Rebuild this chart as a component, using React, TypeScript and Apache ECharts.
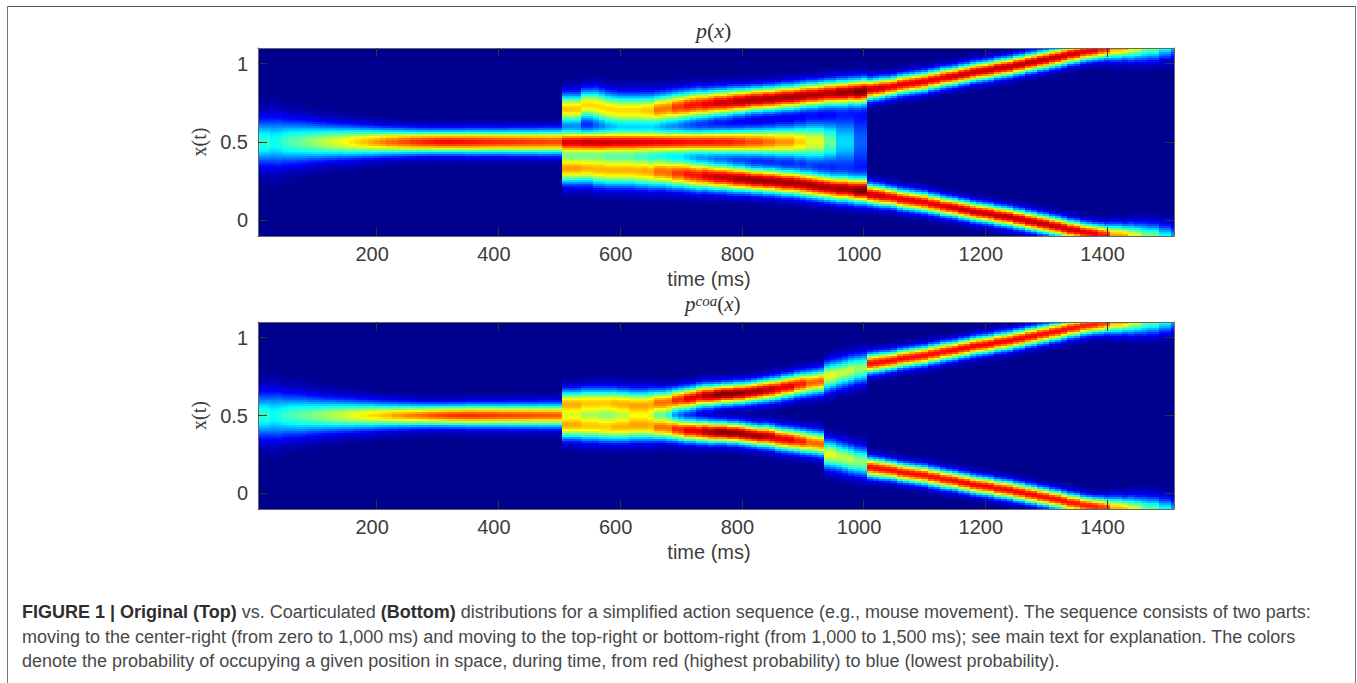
import React, { useEffect, useRef } from "react";
import * as echarts from "echarts";

// Values estimated from the reference crops. c = ridge centre in x(t), p = ridge height
// on the jet scale (0..1), s = ridge half-width. Early and centre lists have one value
// per 10 ms column; p and s of the branches have one value per 25 ms.
const timeStart = 5;
const colStep = 10;
const timeEnd = 1510;
const branchStart = 505;
const coarseStep = 25;
const xTicks = [200, 400, 600, 800, 1000, 1200, 1400];
const yTicks = [0, 0.5, 1];

// Central ridge before the split, 5..495 ms
const topEarlyP = [0.42, 0.42, 0.39, 0.4, 0.44, 0.46, 0.47, 0.49, 0.51, 0.53, 0.55, 0.57, 0.59, 0.6, 0.63, 0.65, 0.67, 0.69, 0.71, 0.73,
  0.75, 0.77, 0.78, 0.8, 0.81, 0.83, 0.84, 0.85, 0.86, 0.87, 0.875, 0.875, 0.87, 0.87, 0.865, 0.86, 0.855, 0.85, 0.845, 0.84,
  0.84, 0.835, 0.83, 0.83, 0.825, 0.82, 0.82, 0.815, 0.81, 0.81];
const bottomEarlyP = [0.42, 0.42, 0.39, 0.4, 0.43, 0.45, 0.46, 0.48, 0.49, 0.51, 0.52, 0.54, 0.56, 0.57, 0.59, 0.61, 0.62, 0.64, 0.66, 0.67,
  0.69, 0.7, 0.72, 0.73, 0.75, 0.76, 0.77, 0.78, 0.8, 0.81, 0.82, 0.83, 0.835, 0.84, 0.84, 0.84, 0.835, 0.83, 0.83, 0.825,
  0.82, 0.82, 0.815, 0.81, 0.81, 0.805, 0.8, 0.8, 0.795, 0.79];
const earlyS = [0.1, 0.1, 0.105, 0.105, 0.095, 0.092, 0.09, 0.086, 0.082, 0.079, 0.076, 0.073, 0.071, 0.069, 0.067, 0.065, 0.063, 0.061, 0.06, 0.058,
  0.056, 0.055, 0.054, 0.053, 0.052, 0.051, 0.05, 0.05, 0.049, 0.049, 0.049, 0.049, 0.049, 0.049, 0.05, 0.05, 0.05, 0.05, 0.05, 0.05,
  0.05, 0.051, 0.051, 0.051, 0.051, 0.051, 0.052, 0.052, 0.052, 0.052];

// Middle ridge of the top panel, 505..1005 ms, per 25 ms
const topMidP = [0.88, 0.9, 0.89, 0.88, 0.875, 0.87, 0.87, 0.865, 0.86, 0.86, 0.85, 0.83, 0.8, 0.77, 0.73, 0.67, 0.6, 0.48, 0.34, 0.22];
const topMidS = [0.048, 0.048, 0.048, 0.048, 0.048, 0.048, 0.048, 0.05, 0.05, 0.052, 0.054, 0.056, 0.059, 0.062, 0.067, 0.075, 0.085, 0.095, 0.12, 0.15];

// Branch centres, 505..995 ms, per 10 ms
const topUpperC = [0.71, 0.71, 0.71, 0.735, 0.735, 0.73, 0.72, 0.71, 0.705, 0.7, 0.7, 0.7, 0.7, 0.7, 0.7,
  0.705, 0.71, 0.715, 0.72, 0.725, 0.73, 0.735, 0.74, 0.74, 0.745,
  0.75, 0.75, 0.755, 0.76, 0.76, 0.765, 0.77, 0.77, 0.775, 0.775,
  0.78, 0.785, 0.785, 0.79, 0.795, 0.8, 0.8, 0.805, 0.81, 0.81,
  0.815, 0.815, 0.82, 0.82, 0.825];
const topLowerC = [0.33, 0.33, 0.33, 0.33, 0.33, 0.325, 0.325, 0.32, 0.32, 0.32, 0.32, 0.32, 0.315, 0.315, 0.31,
  0.31, 0.31, 0.305, 0.3, 0.3, 0.295, 0.29, 0.285, 0.285, 0.28,
  0.275, 0.275, 0.27, 0.265, 0.265, 0.26, 0.255, 0.255, 0.25, 0.25,
  0.245, 0.24, 0.24, 0.235, 0.23, 0.225, 0.22, 0.215, 0.21, 0.205,
  0.2, 0.2, 0.195, 0.19, 0.19];
const bottomUpperC = [0.58, 0.58, 0.58, 0.585, 0.585, 0.585, 0.585, 0.585, 0.585, 0.58, 0.58, 0.575, 0.575, 0.575, 0.58,
  0.585, 0.585, 0.59, 0.6, 0.605, 0.61, 0.615, 0.625, 0.63, 0.63,
  0.635, 0.64, 0.64, 0.645, 0.645, 0.65, 0.655, 0.66, 0.665, 0.67,
  0.675, 0.685, 0.69, 0.7, 0.705, 0.71, 0.715, 0.72, 0.75, 0.76,
  0.77, 0.78, 0.79, 0.8, 0.805];
const bottomLowerC = [0.43, 0.43, 0.43, 0.425, 0.425, 0.425, 0.42, 0.42, 0.42, 0.42, 0.42, 0.425, 0.425, 0.425, 0.425,
  0.42, 0.42, 0.415, 0.41, 0.405, 0.4, 0.4, 0.395, 0.395, 0.39,
  0.39, 0.39, 0.385, 0.385, 0.38, 0.375, 0.37, 0.365, 0.365, 0.36,
  0.35, 0.345, 0.34, 0.335, 0.33, 0.325, 0.32, 0.315, 0.25, 0.245,
  0.235, 0.225, 0.215, 0.205, 0.2];
// Branch centres after the second split, 1005..1505 ms, per 10 ms (same in both panels)
const lateUpperC = [0.835, 0.84, 0.845, 0.85, 0.855, 0.865, 0.87, 0.875, 0.88, 0.885,
  0.895, 0.9, 0.91, 0.915, 0.92, 0.93, 0.935, 0.945, 0.95, 0.955,
  0.96, 0.97, 0.975, 0.98, 0.99, 0.995, 1.005, 1.01, 1.02, 1.025,
  1.035, 1.04, 1.05, 1.06, 1.065, 1.075, 1.08, 1.085, 1.09, 1.095,
  1.1, 1.1, 1.105, 1.105, 1.11, 1.11, 1.115, 1.115, 1.12, 1.12, 1.125];
const lateLowerC = [0.165, 0.16, 0.155, 0.15, 0.145, 0.135, 0.13, 0.125, 0.12, 0.115,
  0.105, 0.1, 0.09, 0.085, 0.08, 0.07, 0.065, 0.055, 0.05, 0.045,
  0.04, 0.03, 0.025, 0.02, 0.01, 0.005, -0.005, -0.01, -0.02, -0.025,
  -0.035, -0.04, -0.05, -0.06, -0.065, -0.075, -0.08, -0.085, -0.09, -0.095,
  -0.1, -0.1, -0.105, -0.105, -0.11, -0.11, -0.115, -0.115, -0.12, -0.12, -0.125];

// Branch heights and half-widths, 505..1505 ms, per 25 ms
const topUpperP = [0.68, 0.66, 0.66, 0.66, 0.66, 0.68, 0.76, 0.82, 0.86, 0.89, 0.92, 0.95, 0.96, 0.96, 0.96, 0.96, 0.95, 0.95, 0.97, 1,
  0.93, 0.9, 0.9, 0.9, 0.9, 0.92, 0.93, 0.93, 0.94, 0.94, 0.94, 0.94, 0.93, 0.92, 0.9, 0.85, 0.72, 0.62, 0.52, 0.42, 0.32];
const topLowerP = [0.72, 0.7, 0.7, 0.7, 0.7, 0.71, 0.77, 0.82, 0.86, 0.9, 0.93, 0.96, 0.97, 0.97, 0.97, 0.96, 0.96, 0.95, 0.96, 1,
  0.93, 0.9, 0.9, 0.9, 0.9, 0.92, 0.93, 0.93, 0.94, 0.94, 0.94, 0.94, 0.93, 0.92, 0.9, 0.85, 0.72, 0.62, 0.52, 0.42, 0.32];
const topBranchS = [0.065, 0.065, 0.07, 0.07, 0.07, 0.07, 0.067, 0.065, 0.063, 0.06, 0.058, 0.056, 0.054, 0.054, 0.054, 0.054, 0.054, 0.054, 0.054, 0.054,
  0.045, 0.043, 0.043, 0.043, 0.042, 0.041, 0.041, 0.041, 0.041, 0.041, 0.041, 0.041, 0.041, 0.041, 0.041, 0.043, 0.05, 0.056, 0.06, 0.06, 0.06];
const bottomBranchP = [0.68, 0.66, 0.66, 0.68, 0.68, 0.68, 0.76, 0.84, 0.9, 0.96, 1, 0.99, 0.97, 0.94, 0.9, 0.85, 0.78, 0.6, 0.56, 0.52,
  0.87, 0.87, 0.87, 0.87, 0.87, 0.875, 0.88, 0.88, 0.88, 0.88, 0.88, 0.87, 0.87, 0.86, 0.85, 0.82, 0.7, 0.6, 0.5, 0.42, 0.32];
const bottomBranchS = [0.058, 0.06, 0.06, 0.06, 0.06, 0.06, 0.054, 0.05, 0.049, 0.048, 0.046, 0.046, 0.046, 0.048, 0.049, 0.05, 0.051, 0.062, 0.062, 0.062,
  0.043, 0.041, 0.041, 0.041, 0.041, 0.04, 0.04, 0.04, 0.04, 0.04, 0.04, 0.04, 0.04, 0.04, 0.04, 0.043, 0.05, 0.056, 0.06, 0.06, 0.06];

const captionLines = [
  "{b|FIGURE 1 | Original (Top)} vs. Coarticulated {b|(Bottom)} distributions for a simplified action sequence (e.g., mouse movement). The sequence consists of two parts:",
  "moving to the center-right (from zero to 1,000 ms) and moving to the top-right or bottom-right (from 1,000 to 1,500 ms); see main text for explanation. The colors",
  "denote the probability of occupying a given position in space, during time, from red (highest probability) to blue (lowest probability).",
];

const jetStops: [number, number[]][] = [
  [0, [0, 0, 143]], [0.125, [0, 0, 255]], [0.375, [0, 255, 255]], [0.625, [255, 255, 0]], [0.875, [255, 0, 0]], [1, [128, 0, 0]],
];
function jet(v: number) {
  const x = Math.min(1, Math.max(0, v));
  for (let i = 1; i < jetStops.length; i++) {
    if (x <= jetStops[i][0]) {
      const [a, ca] = jetStops[i - 1];
      const [b, cb] = jetStops[i];
      const f = (x - a) / (b - a);
      return `rgb(${ca.map((q, k) => Math.round(q + (cb[k] - q) * f)).join(",")})`;
    }
  }
  return "rgb(128,0,0)";
}

const rowCount = 94;
const yMin = -0.1;
const yMax = 1.1;

type Panel = {
  earlyP: number[]; earlyS: number[];
  midP: number[]; midS: number[];
  upC: number[]; upP: number[]; upS: number[];
  lowC: number[]; lowP: number[]; lowS: number[];
};

// One cell per time column and row; each cross-section sums the tabulated ridges.
function cells(d: Panel) {
  const out: number[][] = [];
  const rowH = (yMax - yMin) / rowCount;
  const colCount = d.earlyP.length + d.upC.length;
  for (let i = 0; i < colCount; i++) {
    const t = timeStart + i * colStep;
    const k = i - d.earlyP.length;
    const coarse = k >= 0 ? Math.floor((t - branchStart) / coarseStep) : -1;
    for (let r = 0; r < rowCount; r++) {
      const y = yMin + (r + 0.5) * rowH;
      let v = 0;
      const add = (c: number, p: number, s: number) => {
        v += p * Math.exp(-((y - c) * (y - c)) / (2 * s * s));
      };
      if (k < 0) add(0.5, d.earlyP[i], d.earlyS[i]);
      else {
        if (coarse < d.midP.length) add(0.5, d.midP[coarse], d.midS[coarse]);
        add(d.upC[k], d.upP[coarse], d.upS[coarse]);
        add(d.lowC[k], d.lowP[coarse], d.lowS[coarse]);
      }
      if (v > 0.008) out.push([t, yMin + r * rowH, Math.min(1, v), Math.min(timeEnd, t + colStep), yMin + (r + 1) * rowH]);
    }
  }
  return out;
}

const topCells = cells({
  earlyP: topEarlyP, earlyS,
  midP: topMidP, midS: topMidS,
  upC: topUpperC.concat(lateUpperC), upP: topUpperP, upS: topBranchS,
  lowC: topLowerC.concat(lateLowerC), lowP: topLowerP, lowS: topBranchS,
});
const bottomCells = cells({
  earlyP: bottomEarlyP, earlyS,
  midP: [], midS: [],
  upC: bottomUpperC.concat(lateUpperC), upP: bottomBranchP, upS: bottomBranchS,
  lowC: bottomLowerC.concat(lateLowerC), lowP: bottomBranchP, lowS: bottomBranchS,
});

const textColor = "#3c3c3c";
const sansFont = "'Liberation Sans', Arial, sans-serif";
const serifFont = "'Liberation Serif', 'DejaVu Serif', serif";

function renderCell(_: any, api: any) {
  const a = api.coord([api.value(0), api.value(1)]);
  const b = api.coord([api.value(3), api.value(4)]);
  const x0 = Math.round(a[0]);
  const x1 = Math.round(b[0]);
  const y0 = Math.round(b[1]);
  const y1 = Math.round(a[1]);
  return {
    type: "rect",
    shape: { x: x0, y: y0, width: x1 - x0, height: y1 - y0 },
    style: { fill: jet(api.value(2)) },
  };
}

function xAxisFor(gridIndex: number, position: string, labelled: boolean) {
  return {
    type: "value", gridIndex, position, min: timeStart, max: timeEnd, z: 5,
    splitLine: { show: false },
    axisLine: { show: true, onZero: false, lineStyle: { color: "#666", width: 1 } },
    axisTick: { show: true, inside: true, length: 9, customValues: xTicks, lineStyle: { color: "#333", width: 1 } },
    axisLabel: { show: labelled, customValues: xTicks, formatter: (v: number) => String(v), margin: 8, color: textColor, fontSize: 20, fontFamily: sansFont, padding: [0, 9, 0, 0] },
    name: labelled ? "time (ms)" : "",
    nameLocation: "middle", nameGap: 33,
    nameTextStyle: { color: textColor, fontSize: 20, fontFamily: sansFont, padding: [0, 14, 0, 0] },
  };
}
function yAxisFor(gridIndex: number, position: string, labelled: boolean) {
  return {
    type: "value", gridIndex, position, min: yMin, max: yMax, z: 5,
    splitLine: { show: false },
    axisLine: { show: true, onZero: false, lineStyle: { color: "#666", width: 1 } },
    axisTick: { show: true, inside: true, length: 9, customValues: yTicks, lineStyle: { color: "#333", width: 1 } },
    axisLabel: { show: labelled, customValues: yTicks, formatter: (v: number) => String(v), margin: 10, color: textColor, fontSize: 20, fontFamily: sansFont },
    name: labelled ? "x(t)" : "",
    nameLocation: "middle", nameGap: 36,
    nameTextStyle: { color: textColor, fontSize: 20, fontFamily: serifFont },
  };
}

export default function App() {
  const ref = useRef<HTMLDivElement>(null);
  useEffect(() => {
    const chart = echarts.init(ref.current!, undefined, { renderer: "svg" });
    const grids = [
      { left: 258, top: 48, width: 916, height: 188, show: true, backgroundColor: "#00008f", borderWidth: 0 },
      { left: 258, top: 322, width: 916, height: 187, show: true, backgroundColor: "#00008f", borderWidth: 0 },
    ];
    const captionStyle = { fontSize: 18, fontFamily: sansFont, fill: "#484848" };
    const math = (size: number) => ({
      i: { fontFamily: serifFont, fontStyle: "italic", fontSize: size, fill: "#333" },
      s: { fontFamily: serifFont, fontStyle: "italic", fontSize: size - 6, fill: "#333", verticalAlign: "top" },
      n: { fontFamily: serifFont, fontSize: size, fill: "#333" },
    });
    chart.setOption({
      animation: false,
      backgroundColor: "#fff",
      grid: grids,
      xAxis: [xAxisFor(0, "bottom", true), xAxisFor(0, "top", false), xAxisFor(1, "bottom", true), xAxisFor(1, "top", false)],
      yAxis: [yAxisFor(0, "left", true), yAxisFor(0, "right", false), yAxisFor(1, "left", true), yAxisFor(1, "right", false)],
      series: [
        { type: "custom", xAxisIndex: 0, yAxisIndex: 0, data: topCells, renderItem: renderCell, silent: true, z: 2, encode: { x: 0, y: 1 } },
        { type: "custom", xAxisIndex: 2, yAxisIndex: 2, data: bottomCells, renderItem: renderCell, silent: true, z: 2, encode: { x: 0, y: 1 } },
      ],
      graphic: [
        { type: "line", shape: { x1: 8, y1: 6.5, x2: 1356, y2: 6.5 }, style: { stroke: "#555", lineWidth: 1 } },
        { type: "line", shape: { x1: 7.5, y1: 6, x2: 7.5, y2: 683 }, style: { stroke: "#777", lineWidth: 1 } },
        { type: "line", shape: { x1: 1355.5, y1: 6, x2: 1355.5, y2: 683 }, style: { stroke: "#777", lineWidth: 1 } },
        { type: "text", left: 696, top: 19, style: { text: "{i|p}{n|(}{i|x}{n|)}", rich: math(22) } },
        { type: "text", left: 685, top: 293, style: { text: "{i|p}{s|coa}{n|(}{i|x}{n|)}", rich: math(21) } },
        ...captionLines.map((line, i) => ({
          type: "text", x: 22, y: 603 + i * 24.5,
          style: { ...captionStyle, text: line, rich: { b: { ...captionStyle, fontWeight: "bold", fill: "#2e2e2e" } } },
        })),
      ],
    });
    return () => chart.dispose();
  }, []);
  return <div ref={ref} style={{ position: "absolute", left: 0, top: 0, width: 1357, height: 683 }} />;
}
